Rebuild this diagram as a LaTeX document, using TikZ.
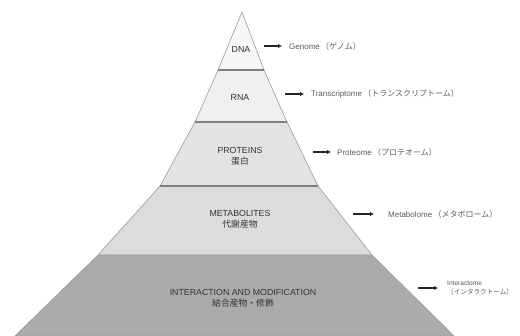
\documentclass[tikz,border=0pt]{standalone}
\usepackage{fontspec}
\setmainfont{Liberation Sans}
\newfontfamily\jpfont{Noto Sans CJK JP}
\usepackage{xcolor}
\usetikzlibrary{arrows.meta, positioning}

\definecolor{lyrA}{HTML}{F6F6F6}
\definecolor{lyrB}{HTML}{F0F0F0}
\definecolor{lyrC}{HTML}{E3E3E3}
\definecolor{lyrD}{HTML}{DCDCDC}
\definecolor{lyrE}{HTML}{ABABAB}
\definecolor{bandgray}{HTML}{7E7E7E}
\definecolor{edgegray}{HTML}{9A9A9A}
\definecolor{txtgray}{HTML}{5A5A5A}

\begin{document}
\begin{tikzpicture}[x=1pt, y=-1pt,
    layer/.style={draw=edgegray, line width=0.6pt, line join=round},
    band/.style={draw=bandgray, line width=2.6pt},
    lyrlbl/.style={font=\fontsize{8.8}{11}\selectfont, text=black!80, align=center, inner sep=1pt},
    omelbl/.style={font=\fontsize{8}{9.5}\selectfont, text=txtgray, align=left, inner sep=2pt, anchor=west},
    arr/.style={-{Latex[length=4pt, width=4.5pt]}, line width=1.5pt, black!85, shorten >=5pt}
]
\useasboundingbox (0,0) rectangle (520,336);

% Layer outline points
\coordinate (apex) at (242,12);
\coordinate (l1) at (218,70);  \coordinate (r1) at (264,70);
\coordinate (l2) at (195,122); \coordinate (r2) at (287,122);
\coordinate (l3) at (160,186); \coordinate (r3) at (318,186);
\coordinate (l4) at (98,255);  \coordinate (r4) at (372,255);
\coordinate (l5) at (15,336);  \coordinate (r5) at (454,336);

% Layers
\filldraw[layer, fill=lyrA] (apex) -- (r1) -- (l1) -- cycle;
\filldraw[layer, fill=lyrB] (l1) -- (r1) -- (r2) -- (l2) -- cycle;
\filldraw[layer, fill=lyrC] (l2) -- (r2) -- (r3) -- (l3) -- cycle;
\filldraw[layer, fill=lyrD] (l3) -- (r3) -- (r4) -- (l4) -- cycle;
\filldraw[layer, fill=lyrE] (l4) -- (r4) -- (r5) -- (l5) -- cycle;

% Bands between layers
\draw[band] (l1) -- (r1);
\draw[band] (l2) -- (r2);
\draw[band] (l3) -- (r3);
\draw[draw=black!25, line width=1pt] (l4) -- (r4);

% Layer labels
\node[lyrlbl] (dna) at (241,49) {DNA};
\node[lyrlbl] (rna) at (240,97) {RNA};
\node[lyrlbl] (prot) at (240,156) {PROTEINS\\{\jpfont 蛋白}};
\node[lyrlbl] (meta) at (240,219) {METABOLITES\\{\jpfont 代謝産物}};
\node[lyrlbl] (inter) at (243,298) {INTERACTION AND MODIFICATION\\{\jpfont 結合産物・修飾}};

% Arrow starts
\coordinate (dnaA) at (264,46);
\coordinate (rnaA) at (285,94);
\coordinate (protA) at (313,152);
\coordinate (metaA) at (353,214);
\coordinate (interA) at (418,288);

% Omics labels
\node[omelbl, right=23pt of dnaA] (genome) {Genome\,{\jpfont（ゲノム）}};
\node[omelbl, right=24pt of rnaA] (trans) {Transcriptome\,{\jpfont（トランスクリプトーム）}};
\node[omelbl, right=22pt of protA] (prote) {Proteome\,{\jpfont（プロテオーム）}};
\node[omelbl, right=33pt of metaA] (metab) {Metabolome\,{\jpfont（メタボローム）}};
\node[omelbl, right=27pt of interA, font=\fontsize{6.6}{8.5}\selectfont] (inter2) {Interactome\\{\jpfont（インタラクトーム）}};

% Arrows
\draw[arr] (dnaA) -- (genome.west);
\draw[arr] (rnaA) -- (trans.west);
\draw[arr, shorten >=4pt] (protA) -- (prote.west);
\draw[arr, shorten >=12pt] (metaA) -- (metab.west);
\draw[arr, shorten >=7pt] (interA) -- (inter2.west);

\end{tikzpicture}
\end{document}
